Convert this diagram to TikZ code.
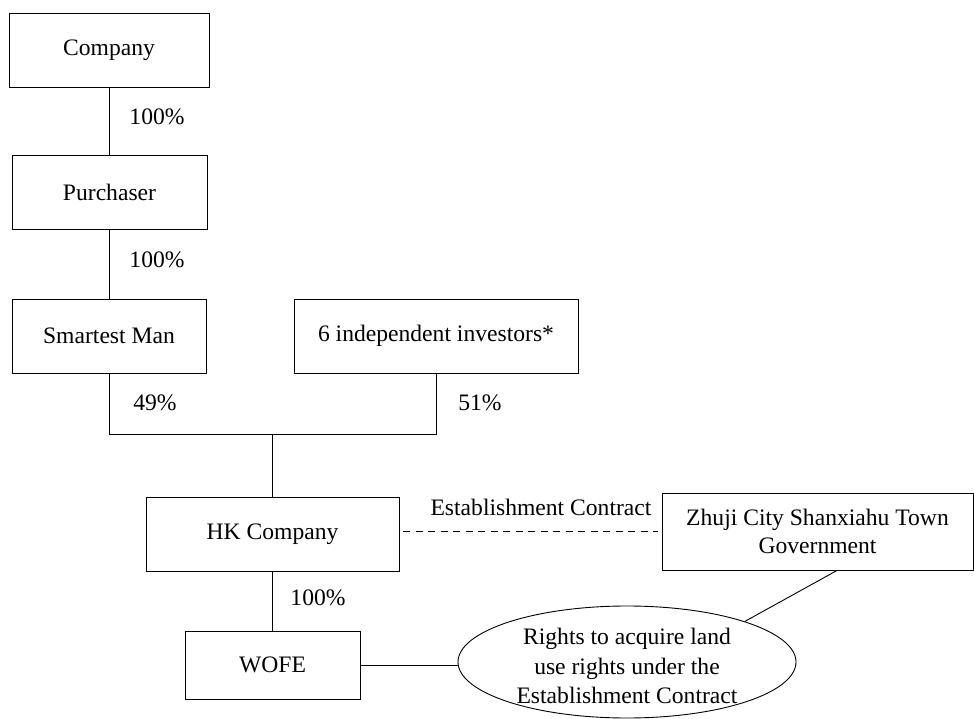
\documentclass[tikz,border=0pt]{standalone}
\usepackage{fontspec}
\setmainfont{Liberation Serif}
\usetikzlibrary{shapes.geometric,calc}
\tikzset{
  box/.style={draw, line width=0.9pt, inner sep=0pt, align=center},
  pct/.style={inner sep=0pt},
  conn/.style={line width=0.9pt},
}
\begin{document}
\begin{tikzpicture}[x=1pt,y=-1pt,font=\fontsize{23.6}{28}\selectfont]
\useasboundingbox (0,0) rectangle (974,719);
\node[box, minimum width=200pt, minimum height=74pt] (company) at (109,50) {Company};
\node[box, minimum width=195pt, minimum height=74pt] (purchaser) at (109.5,192) {Purchaser};
\node[box, minimum width=194pt, minimum height=74pt] (smartest) at (109,336) {Smartest Man};
\node[box, minimum width=284pt, minimum height=74pt] (investors) at (436,336) {6 independent investors*};
\node[box, minimum width=253pt, minimum height=74pt] (hk) at (272.5,534) {HK Company};
\node[box, minimum width=175pt, minimum height=68pt] (wofe) at (272.5,665) {WOFE};
\node[box, minimum width=311pt, minimum height=77pt] (zhuji) at (817.5,531.5) {Zhuji City Shanxiahu Town\\Government};
\node[draw, line width=0.9pt, ellipse, inner sep=0pt, minimum width=338pt, minimum height=112pt] (rights) at (627,662) {};
\node[inner sep=0pt, align=center, font=\fontsize{23.6}{29.5}\selectfont] (rightstext) at (627,666) {Rights to acquire land\\use rights under the\\Establishment Contract};
\coordinate (j) at (272.5,434);

\draw[conn] (company.south) -- (company.south |- purchaser.north);
\draw[conn] (purchaser.south) -- (purchaser.south |- smartest.north);
\draw[conn] (smartest.south) -- (smartest.south |- j) -- (investors.south |- j) -- (investors.south);
\draw[conn] (j) -- (hk.north);
\draw[conn] (hk.south) -- (wofe.north);
\draw[conn, dash pattern=on 7pt off 5.5pt, shorten <=4pt, shorten >=4pt] (hk.east |- zhuji.west) -- (zhuji.west);
\draw[conn] (wofe.east) -- (wofe.east -| rights.west);
\draw[conn] (rights.19) -- ($(zhuji.south)+(19.5,0)$);

\node[pct] (p1) at (157,117) {100\%};
\node[pct] (p2) at (157,260) {100\%};
\node[pct] (p3) at (155,403) {49\%};
\node[pct] (p4) at (480,403) {51\%};
\node[pct] (p5) at (318,598) {100\%};
\node[pct] (ec) at (541,507) {Establishment Contract};
\end{tikzpicture}
\end{document}
